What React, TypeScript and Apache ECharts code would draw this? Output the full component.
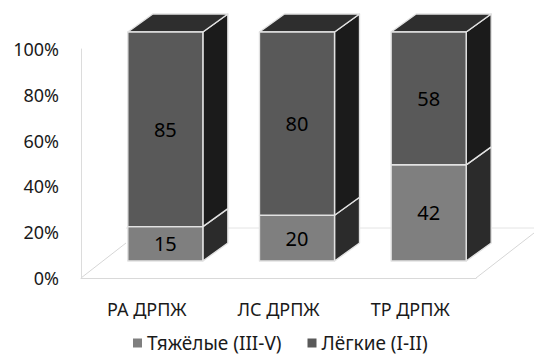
import React, { useEffect, useRef } from "react";
import * as echarts from "echarts";

// Categories and stacked percentage values
const categories = ["РА ДРПЖ", "ЛС ДРПЖ", "ТР ДРПЖ"];
const severe = [15, 20, 42]; // Тяжёлые (III-V)
const mild = [85, 80, 58]; // Лёгкие (I-II)
const yTicks = [0, 20, 40, 60, 80, 100];

const FONT = "'Noto Sans', 'DejaVu Sans', sans-serif";

// face colours for each stack segment
const lightFaces = { front: "#7f7f7f", side: "#2b2b2b", top: "#3a3a3a" };
const darkFaces = { front: "#595959", side: "#1b1b1b", top: "#2e2e2e" };

// 3D box projection offsets (in px)
const FRONT_DX = 18.5;
const FRONT_DY = -17;
const DEPTH_DX = 25;
const DEPTH_DY = -18;

function makeBoxRenderer(faces: { front: string; side: string; top: string }, drawTop: boolean) {
  return (params: any, api: any) => {
    const idx = api.value(0);
    const lo = api.value(1);
    const hi = api.value(2);
    const val = api.value(3);
    const pLo = api.coord([idx, lo]);
    const pHi = api.coord([idx, hi]);
    const band = api.size([1, 0])[0];
    const w = band * 0.57;
    const x0 = pLo[0] - w / 2 + FRONT_DX;
    const x1 = x0 + w;
    const yb = pLo[1] + FRONT_DY;
    const yt = pHi[1] + FRONT_DY;
    const edge = { stroke: "#e2e2e2", lineWidth: 1.4, lineJoin: "round" };
    const children: any[] = [
      {
        type: "polygon",
        shape: {
          points: [
            [x1, yb],
            [x1 + DEPTH_DX, yb + DEPTH_DY],
            [x1 + DEPTH_DX, yt + DEPTH_DY],
            [x1, yt],
          ],
        },
        style: { fill: faces.side, ...edge },
      },
    ];
    if (drawTop) {
      children.push({
        type: "polygon",
        shape: {
          points: [
            [x0, yt],
            [x0 + DEPTH_DX, yt + DEPTH_DY],
            [x1 + DEPTH_DX, yt + DEPTH_DY],
            [x1, yt],
          ],
        },
        style: { fill: faces.top, ...edge },
      });
    }
    children.push({
      type: "polygon",
      shape: {
        points: [
          [x0, yt],
          [x1, yt],
          [x1, yb],
          [x0, yb],
        ],
      },
      style: { fill: faces.front, ...edge },
    });
    children.push({
      type: "text",
      style: {
        text: String(val),
        x: (x0 + x1) / 2,
        y: (yt + yb) / 2,
        align: "center",
        verticalAlign: "middle",
        fontSize: 20,
        fontFamily: FONT,
        fill: "#000",
      },
    });
    return { type: "group", children };
  };
}

export default function App() {
  const ref = useRef<HTMLDivElement>(null);

  useEffect(() => {
    document.body.style.margin = "0";
    if (!ref.current) return;
    const chart = echarts.init(ref.current, null, { renderer: "svg" });

    const lowerData = categories.map((_, i) => [i, 0, severe[i], severe[i]]);
    const upperData = categories.map((_, i) => [i, severe[i], severe[i] + mild[i], mild[i]]);

    const floorLine = { stroke: "#d6d6d6", lineWidth: 1 };

    chart.setOption({
      animation: false,
      backgroundColor: "#ffffff",
      textStyle: { fontFamily: FONT },
      grid: { left: 81, right: 58, top: 49, bottom: 78 },
      xAxis: {
        type: "category",
        data: categories,
        axisLine: { show: true, lineStyle: { color: "#d9d9d9", width: 1 } },
        axisTick: { show: false },
        axisLabel: { color: "#1a1a1a", fontSize: 18, margin: 22, fontFamily: FONT },
      },
      yAxis: {
        type: "value",
        min: yTicks[0],
        max: yTicks[yTicks.length - 1],
        interval: 20,
        axisLine: { show: true, lineStyle: { color: "#dcdcdc", width: 1 } },
        axisTick: { show: false },
        splitLine: { show: false },
        axisLabel: {
          color: "#1a1a1a",
          fontSize: 18,
          margin: 22,
          fontFamily: FONT,
          formatter: (v: number) => `${v}%`,
        },
      },
      legend: {
        left: 133,
        top: 333,
        padding: 0,
        itemWidth: 9,
        itemHeight: 9,
        itemGap: 26,
        icon: "rect",
        textStyle: { color: "#1a1a1a", fontSize: 19, lineHeight: 20, fontFamily: FONT },
        data: [
          { name: "Тяжёлые (III-V)", itemStyle: { color: lightFaces.front } },
          { name: "Лёгкие (I-II)", itemStyle: { color: darkFaces.front } },
        ],
      },
      graphic: [
        // floor outline and back-wall guide
        { type: "line", silent: true, z: -1, shape: { x1: 81, y1: 278, x2: 126, y2: 243 }, style: floorLine },
        { type: "line", silent: true, z: -1, shape: { x1: 476, y1: 278, x2: 534, y2: 233 }, style: floorLine },
        { type: "line", silent: true, z: -1, shape: { x1: 126, y1: 228, x2: 534, y2: 228 }, style: { stroke: "#e4e4e4", lineWidth: 1 } },
      ],
      series: [
        {
          name: "Тяжёлые (III-V)",
          type: "custom",
          itemStyle: { color: lightFaces.front },
          encode: { x: 0, y: [1, 2] },
          renderItem: makeBoxRenderer(lightFaces, false),
          data: lowerData,
          z: 2,
        },
        {
          name: "Лёгкие (I-II)",
          type: "custom",
          itemStyle: { color: darkFaces.front },
          encode: { x: 0, y: [1, 2] },
          renderItem: makeBoxRenderer(darkFaces, true),
          data: upperData,
          z: 3,
        },
      ],
    });

    return () => chart.dispose();
  }, []);

  return <div ref={ref} style={{ width: 534, height: 356 }} />;
}
